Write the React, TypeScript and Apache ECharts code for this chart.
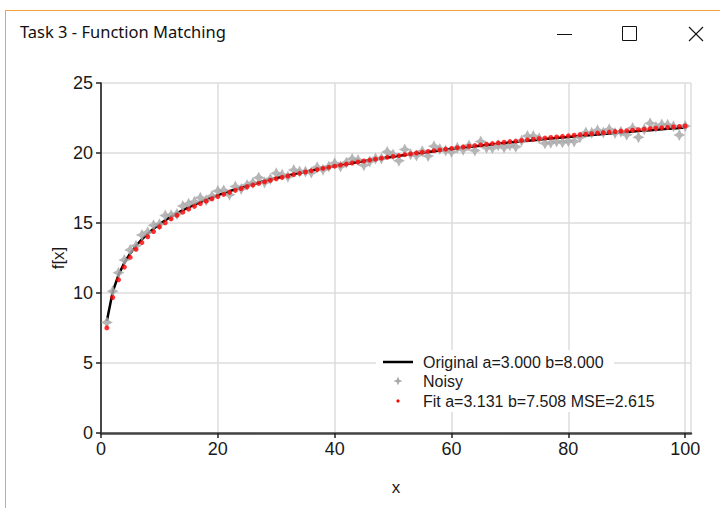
import React, { useEffect, useRef } from "react";
import * as echarts from "echarts";

const xValues = [
  1, 2, 3, 4, 5, 6, 7, 8, 9, 10, 11, 12, 13, 14, 15, 16, 17, 18, 19, 20,
  21, 22, 23, 24, 25, 26, 27, 28, 29, 30, 31, 32, 33, 34, 35, 36, 37, 38, 39, 40,
  41, 42, 43, 44, 45, 46, 47, 48, 49, 50, 51, 52, 53, 54, 55, 56, 57, 58, 59, 60,
  61, 62, 63, 64, 65, 66, 67, 68, 69, 70, 71, 72, 73, 74, 75, 76, 77, 78, 79, 80,
  81, 82, 83, 84, 85, 86, 87, 88, 89, 90, 91, 92, 93, 94, 95, 96, 97, 98, 99, 100,
];

const originalValues = [
  8.0, 10.079, 11.296, 12.159, 12.828, 13.375, 13.838, 14.238, 14.592, 14.908,
  15.194, 15.455, 15.695, 15.917, 16.124, 16.318, 16.5, 16.671, 16.833, 16.987,
  17.134, 17.273, 17.407, 17.534, 17.657, 17.774, 17.887, 17.997, 18.102, 18.204,
  18.302, 18.397, 18.49, 18.579, 18.666, 18.751, 18.833, 18.913, 18.991, 19.067,
  19.141, 19.213, 19.284, 19.353, 19.42, 19.486, 19.55, 19.614, 19.675, 19.736,
  19.795, 19.854, 19.911, 19.967, 20.022, 20.076, 20.129, 20.181, 20.233, 20.283,
  20.333, 20.381, 20.429, 20.477, 20.523, 20.569, 20.614, 20.659, 20.702, 20.746,
  20.788, 20.83, 20.872, 20.912, 20.953, 20.992, 21.031, 21.07, 21.108, 21.146,
  21.183, 21.22, 21.256, 21.292, 21.328, 21.363, 21.398, 21.432, 21.466, 21.499,
  21.533, 21.565, 21.598, 21.63, 21.662, 21.693, 21.724, 21.755, 21.785, 21.816,
];

const noisyValues = [
  7.9, 10.13, 11.45, 12.36, 13.08, 13.38, 14.14, 14.34, 14.84, 14.91,
  15.54, 15.56, 15.65, 16.22, 16.37, 16.52, 16.8, 16.62, 16.93, 17.29,
  17.33, 17.02, 17.61, 17.43, 17.71, 17.87, 18.24, 17.9, 18.15, 18.55,
  18.45, 18.3, 18.79, 18.68, 18.67, 18.6, 18.98, 18.81, 19.04, 19.27,
  19.04, 19.31, 19.58, 19.5, 19.12, 19.39, 19.6, 19.61, 20.08, 19.89,
  19.45, 20.25, 19.91, 19.82, 20.12, 19.78, 20.48, 20.28, 20.18, 20.08,
  20.38, 20.23, 20.53, 20.18, 20.82, 20.37, 20.36, 20.56, 20.4, 20.55,
  20.44, 20.88, 21.22, 21.21, 21.05, 20.69, 20.73, 20.82, 20.76, 20.85,
  20.83, 21.12, 21.46, 21.44, 21.63, 21.46, 21.7, 21.43, 21.52, 21.3,
  21.78, 21.12, 21.7, 22.13, 21.86, 22.04, 22.02, 21.91, 21.29, 21.92,
];

const fitValues = [
  7.508, 9.678, 10.948, 11.849, 12.547, 13.118, 13.601, 14.018, 14.388, 14.718,
  15.016, 15.289, 15.539, 15.771, 15.987, 16.189, 16.379, 16.558, 16.727, 16.887,
  17.041, 17.186, 17.326, 17.458, 17.587, 17.709, 17.827, 17.942, 18.051, 18.158,
  18.26, 18.359, 18.456, 18.549, 18.64, 18.728, 18.814, 18.898, 18.979, 19.058,
  19.135, 19.211, 19.285, 19.357, 19.427, 19.496, 19.562, 19.629, 19.693, 19.756,
  19.818, 19.88, 19.939, 19.998, 20.055, 20.111, 20.167, 20.221, 20.275, 20.327,
  20.38, 20.43, 20.48, 20.53, 20.578, 20.626, 20.673, 20.72, 20.765, 20.811,
  20.854, 20.898, 20.942, 20.984, 21.027, 21.067, 21.108, 21.149, 21.188, 21.228,
  21.267, 21.305, 21.343, 21.38, 21.418, 21.455, 21.491, 21.527, 21.562, 21.596,
  21.632, 21.665, 21.7, 21.733, 21.767, 21.799, 21.831, 21.864, 21.895, 21.927,
];

const seriesNames = [
  "Original a=3.000 b=8.000",
  "Noisy",
  "Fit a=3.131 b=7.508 MSE=2.615",
];
const windowTitle = "Task 3 - Function Matching";
const xAxisTitle = "x";
const yAxisTitle = "f[x]";

const STAR =
  "path://M0,-5 L1.7,-1.7 L5,0 L1.7,1.7 L0,5 L-1.7,1.7 L-5,0 L-1.7,-1.7 Z";
const NARROW = "'Liberation Sans Narrow', 'Liberation Sans', Arial, sans-serif";

export default function App() {
  const ref = useRef<HTMLDivElement>(null);
  useEffect(() => {
    if (!ref.current) return;
    const chart = echarts.init(ref.current, null, { renderer: "svg" });
    const pair = (ys: number[]) => xValues.map((x, i) => [x, ys[i]]);
    const lx = 383;
    const rows = [362, 381, 401];
    chart.setOption({
      animation: false,
      backgroundColor: "#ffffff",
      grid: { left: 101, top: 83, right: 29, bottom: 75, containLabel: false },
      xAxis: {
        type: "value",
        min: 0,
        max: 101,
        interval: 20,
        name: xAxisTitle,
        nameLocation: "middle",
        nameGap: 46,
        nameTextStyle: { fontFamily: NARROW, fontSize: 17, color: "#1a1a1a" },
        axisLine: { show: true, onZero: false, lineStyle: { color: "#444", width: 2.5 } },
        axisTick: { show: true, length: 5, lineStyle: { color: "#222", width: 1.5 } },
        axisLabel: {
          fontFamily: NARROW,
          fontSize: 18,
          color: "#1a1a1a",
          margin: 7,
          showMaxLabel: false,
          formatter: (v: number) => (v % 20 === 0 ? String(v) : ""),
        },
        splitLine: { show: true, lineStyle: { color: "#dcdcdc", width: 1.5 } },
      },
      yAxis: {
        type: "value",
        min: 0,
        max: 25,
        interval: 5,
        name: yAxisTitle,
        nameLocation: "middle",
        nameGap: 34,
        nameMoveOverlap: false,
        nameRotate: 90,
        nameTextStyle: { fontFamily: NARROW, fontSize: 17, color: "#1a1a1a" },
        axisLine: { show: true, onZero: false, lineStyle: { color: "#111", width: 1.5 } },
        axisTick: { show: true, length: 5, lineStyle: { color: "#222", width: 1.5 } },
        axisLabel: { fontFamily: NARROW, fontSize: 18, color: "#1a1a1a", margin: 8 },
        splitLine: { show: true, lineStyle: { color: "#dcdcdc", width: 1.5 } },
      },
      series: [
        {
          name: seriesNames[0],
          type: "line",
          data: pair(originalValues),
          symbol: "none",
          lineStyle: { color: "#000", width: 2.5 },
          z: 2,
        },
        {
          name: seriesNames[1],
          type: "scatter",
          data: pair(noisyValues),
          symbol: STAR,
          symbolSize: 12,
          itemStyle: { color: "#a9a9a9", opacity: 0.85 },
          z: 3,
        },
        {
          name: seriesNames[2],
          type: "scatter",
          data: pair(fitValues),
          symbol: "circle",
          symbolSize: 5,
          itemStyle: { color: "#ff0000" },
          z: 4,
        },
      ],
      graphic: [
        // window frame
        { type: "line", shape: { x1: 5, y1: 10.5, x2: 720, y2: 10.5 }, style: { stroke: "#f3a640", lineWidth: 1 } },
        { type: "line", shape: { x1: 5.5, y1: 10, x2: 5.5, y2: 508 }, style: { stroke: "#f3a640", lineWidth: 1 } },
        {
          type: "text",
          left: 20,
          top: 23,
          style: { text: windowTitle, fontFamily: "'Noto Sans', 'Open Sans', sans-serif", fontSize: 16.5, fill: "#111" },
        },
        { type: "line", shape: { x1: 557, y1: 34.5, x2: 572, y2: 34.5 }, style: { stroke: "#111", lineWidth: 1 } },
        { type: "rect", shape: { x: 622.5, y: 26.5, width: 14, height: 14 }, style: { stroke: "#111", fill: "none", lineWidth: 1 } },
        { type: "line", shape: { x1: 689, y1: 27, x2: 703, y2: 41 }, style: { stroke: "#111", lineWidth: 1.1 } },
        { type: "line", shape: { x1: 703, y1: 27, x2: 689, y2: 41 }, style: { stroke: "#111", lineWidth: 1.1 } },
        // legend
        { type: "rect", z: 10, shape: { x: 376, y: 350, width: 238, height: 62 }, style: { fill: "#ffffff" } },
        { type: "line", z: 11, shape: { x1: lx, y1: rows[0], x2: lx + 30, y2: rows[0] }, style: { stroke: "#000", lineWidth: 2.5 } },
        {
          type: "polygon",
          z: 11,
          shape: {
            points: [
              [398, rows[1] - 4.5], [399.3, rows[1] - 1.3], [402.5, rows[1]], [399.3, rows[1] + 1.3],
              [398, rows[1] + 4.5], [396.7, rows[1] + 1.3], [393.5, rows[1]], [396.7, rows[1] - 1.3],
            ],
          },
          style: { fill: "#a9a9a9" },
        },
        { type: "circle", z: 11, shape: { cx: 398, cy: rows[2], r: 1.6 }, style: { fill: "#ff0000" } },
        ...seriesNames.map((n, i) => ({
          type: "text",
          z: 11,
          x: 423,
          y: rows[i],
          style: { text: n, fontFamily: NARROW, fontSize: 16, fill: "#1a1a1a", verticalAlign: "middle", align: "left" },
        })),
      ],
    });
    return () => chart.dispose();
  }, []);
  return (
    <div
      ref={ref}
      style={{ position: "fixed", left: 0, top: 0, width: 720, height: 508, background: "#fff" }}
    />
  );
}
